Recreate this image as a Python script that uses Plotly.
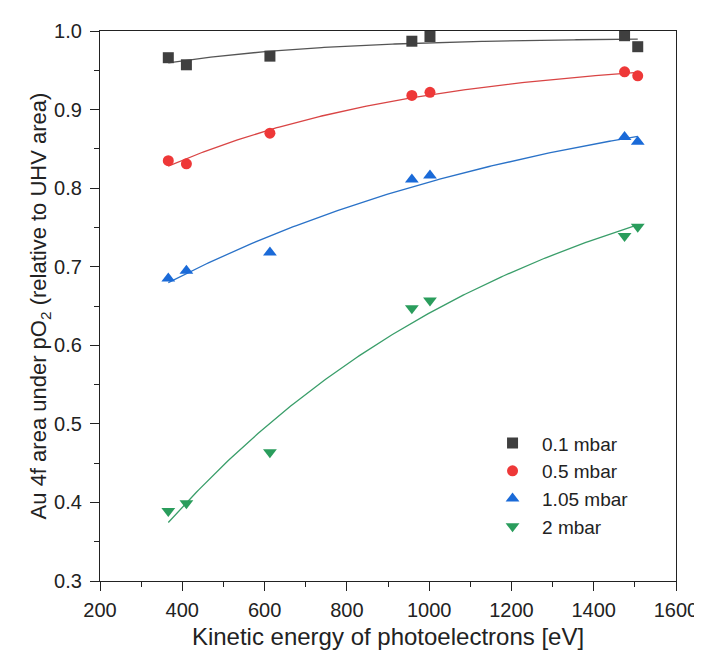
import numpy as np
import plotly.graph_objects as go

# Data
energy_ev = [366, 410, 613, 958, 1002, 1475, 1507]
series_names = ["0.1 mbar", "0.5 mbar", "1.05 mbar", "2 mbar"]
area_01 = [0.966, 0.957, 0.968, 0.987, 0.993, 0.994, 0.980]
area_05 = [0.835, 0.831, 0.870, 0.918, 0.922, 0.948, 0.943]
area_105 = [0.685, 0.695, 0.718, 0.811, 0.816, 0.865, 0.859]
area_2 = [0.389, 0.399, 0.464, 0.647, 0.657, 0.739, 0.751]

x_ticks = [200, 400, 600, 800, 1000, 1200, 1400, 1600]
y_ticks = [0.3, 0.4, 0.5, 0.6, 0.7, 0.8, 0.9, 1.0]

marker_colors = ["#3f3f3f", "#ee3838", "#1a6ad8", "#2a9d5c"]
line_colors = ["#555555", "#d94545", "#2a72c8", "#3a9e6a"]
symbols = ["square", "circle", "triangle-up", "triangle-down"]
sizes = [11, 11, 12, 12]


def fit_expdec(x, y):
    """Least-squares fit of y = y0 + A*exp(-x/t) (grid over t)."""
    x = np.asarray(x, float)
    y = np.asarray(y, float)
    best = None
    for t in np.logspace(np.log10(50), 6, 3000):
        M = np.column_stack([np.ones_like(x), np.exp(-x / t)])
        coef, *_ = np.linalg.lstsq(M, y, rcond=None)
        err = np.sum((M @ coef - y) ** 2)
        if best is None or err < best[0]:
            best = (err, coef, t)
    _, (y0, a), t = best
    xf = np.linspace(x.min(), x.max(), 200)
    return xf, y0 + a * np.exp(-xf / t)


fig = go.Figure()
all_series = [area_01, area_05, area_105, area_2]
for ys, lc in zip(all_series, line_colors):
    xf, yf = fit_expdec(energy_ev, ys)
    fig.add_trace(go.Scatter(x=xf, y=yf, mode="lines",
                             line=dict(color=lc, width=1.3),
                             showlegend=False, hoverinfo="skip"))
for name, ys, mc, sym, sz in zip(series_names, all_series, marker_colors,
                                 symbols, sizes):
    fig.add_trace(go.Scatter(x=energy_ev, y=ys, mode="markers", name=name,
                             marker=dict(symbol=sym, size=sz, color=mc,
                                         line=dict(width=0))))

font_family = "Liberation Sans, Arial, sans-serif"
fig.update_layout(
    width=702, height=650,
    margin=dict(l=92, r=28, t=21, b=74),
    plot_bgcolor="white", paper_bgcolor="white",
    font=dict(family=font_family, size=20, color="#222222"),
    showlegend=True,
    legend=dict(x=0.665, y=0.285, xanchor="left", yanchor="top",
                bgcolor="rgba(0,0,0,0)", font=dict(size=19),
                itemwidth=49, tracegroupgap=0),
)
fig.update_xaxes(
    range=[200, 1600], tickvals=x_ticks, ticktext=[str(v) for v in x_ticks],
    showline=True, linecolor="#222222", linewidth=1.2, mirror=True,
    ticks="outside", ticklen=9, tickwidth=1.2, tickcolor="#222222",
    minor=dict(ticks="outside", ticklen=5, dtick=100, tickcolor="#222222"),
    showgrid=False, zeroline=False, ticklabelstandoff=2,
    title=dict(text="Kinetic energy of photoelectrons [eV]", font=dict(size=24),
               standoff=8),
    tickfont=dict(size=20),
)
fig.update_yaxes(
    range=[0.3, 1.0], tickvals=y_ticks, ticktext=[f"{v:.1f}" for v in y_ticks],
    showline=True, linecolor="#222222", linewidth=1.2, mirror=True,
    ticks="outside", ticklen=9, tickwidth=1.2, tickcolor="#222222",
    minor=dict(ticks="outside", ticklen=5, dtick=0.05, tickcolor="#222222"),
    showgrid=False, zeroline=False, ticklabelstandoff=4,
    title=dict(text="Au 4f area under pO<sub>2</sub> (relative to UHV area)",
               font=dict(size=22), standoff=0),
    tickfont=dict(size=20),
)

fig.write_html("out.html")
